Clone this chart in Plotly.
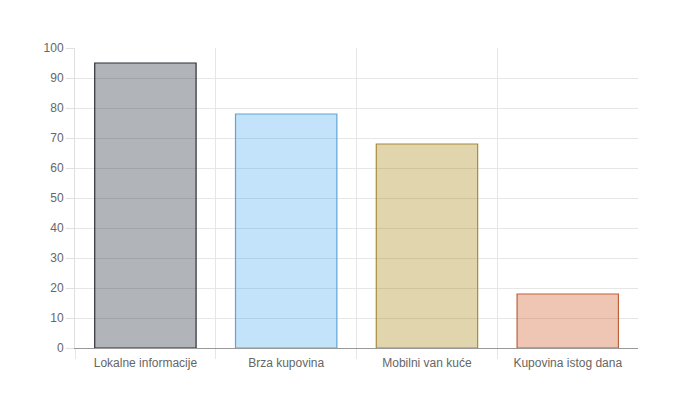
import plotly.graph_objects as go

# data
categories = ['Lokalne informacije', 'Brza kupovina', 'Mobilni van kuće', 'Kupovina istog dana']
values = [95, 78, 68, 18]
fill_colors = ['rgba(32,44,58,0.35)', 'rgba(54,162,235,0.3)', 'rgba(170,135,20,0.35)', 'rgba(210,90,40,0.35)']
line_colors = ['#2b3036', '#5fa6d6', '#a88a3a', '#c0603a']

fig = go.Figure(go.Bar(
    x=categories, y=values,
    marker=dict(color=fill_colors, line=dict(color=line_colors, width=1.2)),
    hoverinfo='x+y',
))

# page body has an 8px margin, so offsets are shifted by that
fig.update_layout(
    width=700, height=400,
    margin=dict(l=67, r=70, t=40, b=60),
    paper_bgcolor='white', plot_bgcolor='white',
    font=dict(family='Liberation Sans, Arial, sans-serif', size=12, color='#666'),
    bargap=0.28,
    showlegend=False,
)
fig.update_xaxes(
    range=[-0.5, 3.499],
    tickson='boundaries', ticks='outside', ticklen=10, tickcolor='#e6e6e6',
    ticklabelstandoff=4,
    showgrid=True, gridcolor='#e6e6e6', gridwidth=1,
    showline=True, linecolor='#999', linewidth=1,
    tickfont=dict(size=12, color='#666'),
)
fig.update_yaxes(
    range=[0, 100], dtick=10, ticks='outside', ticklen=8, tickcolor='#e0e0e0',
    showgrid=True, gridcolor='#e6e6e6', gridwidth=1,
    showline=True, linecolor='#e0e0e0', linewidth=1,
    zeroline=False,
    tickfont=dict(size=12, color='#666'),
)

fig.write_html("out.html")
